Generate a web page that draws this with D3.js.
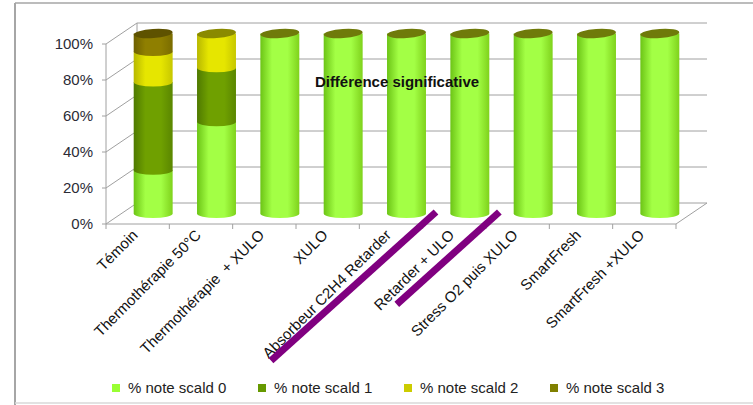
<!DOCTYPE html>
<html>
<head>
<meta charset="utf-8">
<script src="https://cdn.jsdelivr.net/npm/d3@7/dist/d3.min.js"></script>
<style>
  html, body { margin: 0; padding: 0; background: #fff; }
  svg text { font-family: "Liberation Sans", Arial, sans-serif; }
</style>
</head>
<body>
<svg id="chart" width="753" height="405"></svg>
<script>
// Treatments (x axis)
const categories = [
  "Témoin",
  "Thermothérapie 50°C",
  "Thermothérapie  + XULO",
  "XULO",
  "Absorbeur C2H4 Retarder",
  "Retarder + ULO",
  "Stress O2 puis XULO",
  "SmartFresh",
  "SmartFresh +XULO"
];

// Share of fruit per scald score (fractions, stacked to 100 %)
const scald0 = [0.24, 0.51, 1, 1, 1, 1, 1, 1, 1];
const scald1 = [0.49, 0.30, 0, 0, 0, 0, 0, 0, 0];
const scald2 = [0.17, 0.19, 0, 0, 0, 0, 0, 0, 0];
const scald3 = [0.10, 0.00, 0, 0, 0, 0, 0, 0, 0];

const seriesNames = ["% note scald 0", "% note scald 1", "% note scald 2", "% note scald 3"];
const yTicks = [0, 0.2, 0.4, 0.6, 0.8, 1];
const annotation = "Différence significative";
// Treatments crossed out on the axis
const struck = ["Absorbeur C2H4 Retarder", "Retarder + ULO"];

const svg = d3.select("#chart");

// frame
svg.append("line").attr("x1", 15).attr("y1", 3).attr("x2", 753).attr("y2", 3)
  .attr("stroke", "#a6a6a6").attr("stroke-width", 1.5);
svg.append("line").attr("x1", 15).attr("y1", 3).attr("x2", 15).attr("y2", 405)
  .attr("stroke", "#a6a6a6").attr("stroke-width", 2);
svg.append("line").attr("x1", 15).attr("y1", 403).attr("x2", 753).attr("y2", 403)
  .attr("stroke", "#d9d9d9").attr("stroke-width", 1.5);

// 3D geometry
const depth = { dx: 31, dy: -21 };
const x = d3.scaleBand().domain(categories).range([106, 676]).padding(0);
const y = d3.scaleLinear().domain([0, 1]).range([224, 44]);
const gridColor = "#a0a0a0";

const walls = svg.append("g");
// back wall gridlines
walls.selectAll("line.grid").data(yTicks).join("line")
  .attr("x1", 106 + depth.dx).attr("x2", 676 + depth.dx)
  .attr("y1", d => y(d) + depth.dy).attr("y2", d => y(d) + depth.dy)
  .attr("stroke", gridColor).attr("stroke-width", 1);
// side wall diagonals
walls.selectAll("line.diag").data(yTicks).join("line")
  .attr("x1", 106).attr("x2", 106 + depth.dx)
  .attr("y1", d => y(d)).attr("y2", d => y(d) + depth.dy)
  .attr("stroke", gridColor).attr("stroke-width", 1);
// back left edge
walls.append("line")
  .attr("x1", 106 + depth.dx).attr("x2", 106 + depth.dx)
  .attr("y1", y(1) + depth.dy).attr("y2", y(0) + depth.dy)
  .attr("stroke", gridColor);
// floor right edge
walls.append("line")
  .attr("x1", 676).attr("x2", 676 + depth.dx)
  .attr("y1", y(0)).attr("y2", y(0) + depth.dy)
  .attr("stroke", gridColor);
// front value axis
walls.append("line").attr("x1", 106).attr("x2", 106).attr("y1", y(1)).attr("y2", y(0))
  .attr("stroke", gridColor);
walls.selectAll("line.ytick").data(yTicks).join("line")
  .attr("x1", 102).attr("x2", 106).attr("y1", d => y(d)).attr("y2", d => y(d))
  .attr("stroke", gridColor);
// front category axis
walls.append("line").attr("x1", 106).attr("x2", 676).attr("y1", y(0)).attr("y2", y(0))
  .attr("stroke", gridColor);
const boundaries = categories.map(c => x(c)).concat([x.range()[1]]);
walls.selectAll("line.xtick").data(boundaries).join("line")
  .attr("x1", d => d).attr("x2", d => d).attr("y1", y(0)).attr("y2", y(0) + 5)
  .attr("stroke", gridColor);

// y labels
svg.selectAll("text.ylab").data(yTicks).join("text")
  .attr("x", 93).attr("y", d => y(d)).attr("dy", "0.35em")
  .attr("text-anchor", "end").attr("font-size", 15).attr("fill", "#2b2b36")
  .text(d => d3.format(".0%")(d));

// colours
const colors = [
  { dark: "#6cc416", light: "#a3ff45", edge: "#7fd21c", cap: "#6f7a0a" },
  { dark: "#4f7a00", light: "#6fa000", edge: "#5a8600", cap: "#556b00" },
  { dark: "#b8b800", light: "#e6e600", edge: "#c7c700", cap: "#8a8a00" },
  { dark: "#6e6000", light: "#8f7f00", edge: "#7a6c00", cap: "#5e5200" }
];
const legendColors = ["#99ff33", "#669900", "#cccc00", "#808000"];

const defs = svg.append("defs");
colors.forEach((c, i) => {
  const g = defs.append("linearGradient").attr("id", "cyl" + i)
    .attr("x1", 0).attr("x2", 1).attr("y1", 0).attr("y2", 0);
  g.append("stop").attr("offset", "0%").attr("stop-color", c.dark);
  g.append("stop").attr("offset", "30%").attr("stop-color", c.light);
  g.append("stop").attr("offset", "70%").attr("stop-color", c.light);
  g.append("stop").attr("offset", "100%").attr("stop-color", c.edge);
});

// stacked cylinders
const series = [scald0, scald1, scald2, scald3];
const stackData = categories.map((c, i) => {
  const o = { cat: c };
  series.forEach((s, k) => o["s" + k] = s[i]);
  return o;
});
const stack = d3.stack().keys(["s0", "s1", "s2", "s3"]);
const stacked = stack(stackData);

const barW = x.bandwidth() * 0.615;
const rx = barW / 2, ry = 4.5;
const yb = v => y(v) + depth.dy / 2;
const cxOf = c => x(c) + x.bandwidth() / 2 + depth.dx / 2;

const bars = svg.append("g");
stacked.forEach((layer, k) => {
  layer.forEach(seg => {
    const v0 = seg[0], v1 = seg[1];
    if (v1 - v0 <= 0) return;
    const cx = cxOf(seg.data.cat);
    const yt = yb(v1), ybot = yb(v0);
    // body plus front half of the bottom ellipse
    bars.append("path")
      .attr("d", `M${cx - rx},${yt} L${cx + rx},${yt} L${cx + rx},${ybot} A${rx},${ry} 0 0 1 ${cx - rx},${ybot} Z`)
      .attr("fill", `url(#cyl${k})`);
  });
});
// top caps
categories.forEach((c, i) => {
  let top = 0, topK = 0;
  series.forEach((s, k) => { top += s[i]; if (s[i] > 0) topK = k; });
  const cx = cxOf(c);
  bars.append("ellipse")
    .attr("cx", cx).attr("cy", yb(top)).attr("rx", rx).attr("ry", ry)
    .attr("transform", `rotate(-4 ${cx} ${yb(top)})`)
    .attr("fill", colors[topK].cap);
});

// annotation
svg.append("text").attr("x", 397).attr("y", 82).attr("dy", "0.35em")
  .attr("text-anchor", "middle").attr("font-size", 15).attr("font-weight", "bold")
  .attr("fill", "#111").text(annotation);

// category labels
svg.selectAll("text.xlab").data(categories).join("text")
  .attr("text-anchor", "end").attr("font-size", 15).attr("fill", "#111")
  .style("white-space", "pre")
  .attr("transform", d => `translate(${x(d) + x.bandwidth() / 2 + 1},${236}) rotate(-45)`)
  .text(d => d);

// strike-through marks
const strikeLen = { "Absorbeur C2H4 Retarder": 222, "Retarder + ULO": 138 };
const ang = 42 * Math.PI / 180;
svg.selectAll("line.strike").data(struck).join("line")
  .attr("x1", d => x(d) + x.bandwidth() / 2 + 45).attr("y1", 212)
  .attr("x2", d => x(d) + x.bandwidth() / 2 + 45 - strikeLen[d] * Math.cos(ang))
  .attr("y2", d => 212 + strikeLen[d] * Math.sin(ang))
  .attr("stroke", "#800080").attr("stroke-width", 7);

// legend
const legX = [112, 258, 404, 550];
const leg = svg.selectAll("g.leg").data(seriesNames).join("g")
  .attr("transform", (d, i) => `translate(${legX[i]},388)`);
leg.append("rect").attr("x", 0).attr("y", -4).attr("width", 8).attr("height", 8)
  .attr("fill", (d, i) => legendColors[i]);
leg.append("text").attr("x", 16).attr("y", 0).attr("dy", "0.35em")
  .attr("font-size", 15).attr("fill", "#222").text(d => d);
</script>
</body>
</html>
